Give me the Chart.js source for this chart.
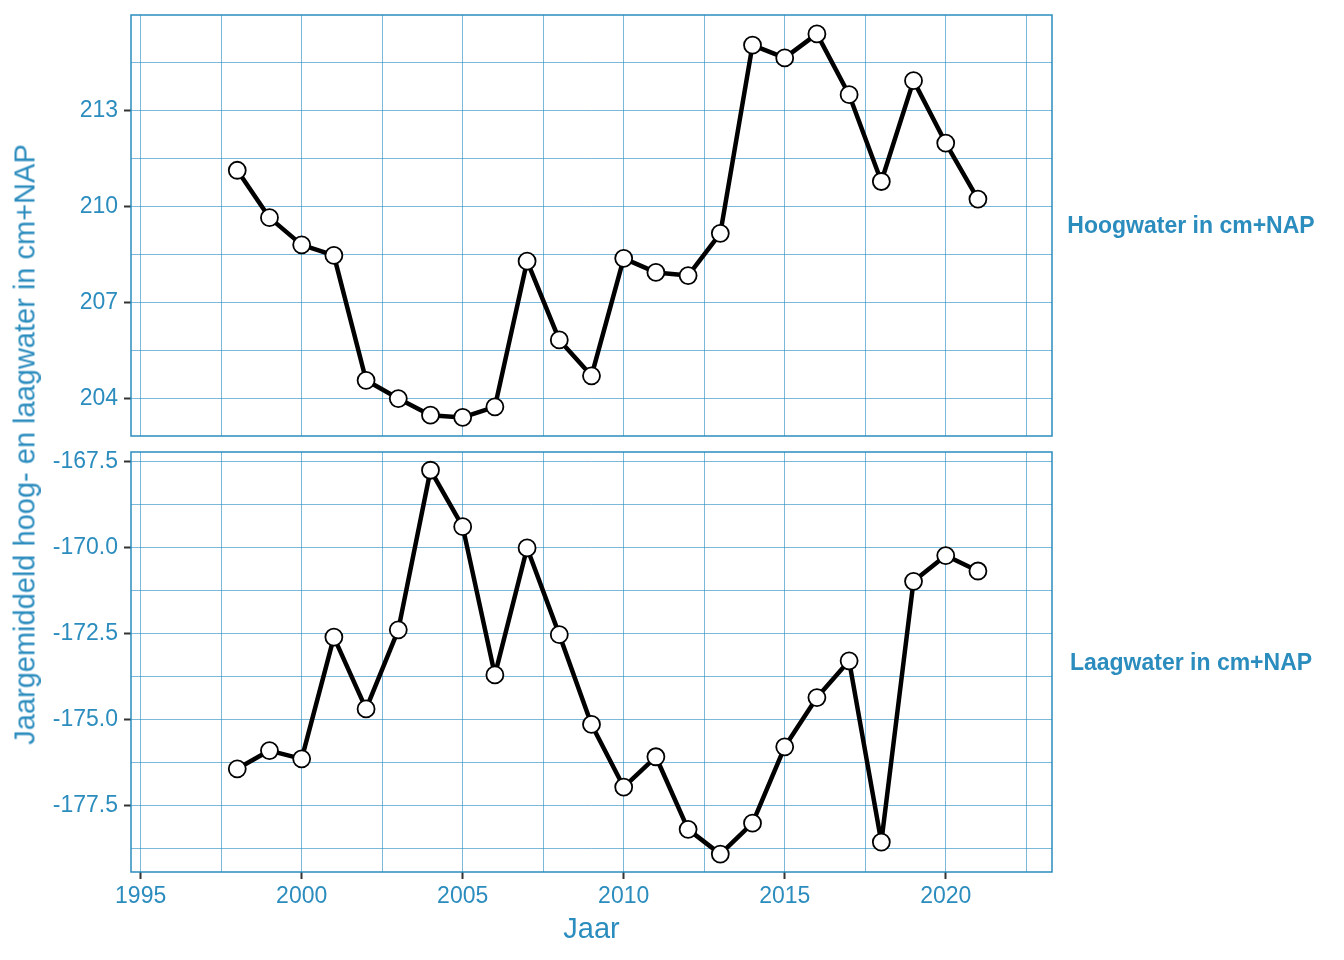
<!DOCTYPE html>
<html>
<head>
<meta charset="utf-8">
<script src="https://cdn.jsdelivr.net/npm/chart.js@4.4.0/dist/chart.umd.min.js"></script>
<style>
  body { margin: 0; background: #fff; }
  #wrap { position: relative; width: 1344px; height: 960px; overflow: hidden; font-family: 'Liberation Sans', Arial, sans-serif; }
  canvas { position: absolute; left: 0; }
  #hoogChart { top: -30px; }
  #laagChart { top: 400px; }
  .lbl { position: absolute; color: #2b8cbe; white-space: nowrap; text-align: center; }
  .title { font-size: 29px; line-height: 29px; height: 29px; }
  .strip { font-size: 23px; line-height: 23px; font-weight: bold; left: 1052px; width: 278px; }
</style>
</head>
<body>
<div id="wrap">
  <canvas id="hoogChart" width="1344" height="496"></canvas>
  <canvas id="laagChart" width="1344" height="560"></canvas>
  <div class="lbl title" style="left:-375px; top:429.5px; width:800px; transform:rotate(-90deg);">Jaargemiddeld hoog- en laagwater in cm+NAP</div>
  <div class="lbl title" style="left:391.5px; top:914px; width:400px;">Jaar</div>
  <div class="lbl strip" style="top:213.5px;">Hoogwater in cm+NAP</div>
  <div class="lbl strip" style="top:651px;">Laagwater in cm+NAP</div>
</div>
<script>
// jaargemiddelden
const years = [1998, 1999, 2000, 2001, 2002, 2003, 2004, 2005, 2006, 2007, 2008, 2009,
               2010, 2011, 2012, 2013, 2014, 2015, 2016, 2017, 2018, 2019, 2020, 2021];
const hoogwater = [211.14, 209.66, 208.81, 208.48, 204.58, 204.01, 203.49, 203.42, 203.75, 208.30, 205.84, 204.72,
                   208.39, 207.95, 207.85, 209.17, 215.05, 214.65, 215.40, 213.50, 210.79, 213.94, 211.99, 210.24];
const laagwater = [-176.42, -175.89, -176.13, -172.59, -174.68, -172.38, -167.74, -169.38, -173.69, -170.00, -172.52, -175.13,
                   -176.95, -176.07, -178.18, -178.90, -178.00, -175.78, -174.35, -173.28, -178.55, -170.97, -170.22, -170.67];

const yearTicks = [1995, 2000, 2005, 2010, 2015, 2020];
const hoogTicks = [204, 207, 210, 213];
const laagTicks = [-177.5, -175, -172.5, -170, -167.5];

const textColor = '#2b8cbe';
const gridColor = 'rgba(43, 140, 190, 0.62)';
const fontFamily = "'Liberation Sans', Arial, sans-serif";

function isMajor(list, v) {
    return list.some(m => Math.abs(m - v) < 1e-6);
}

// hoofd- en tussenlijnen (ggplot minor breaks halverwege)
function withMinors(list, min, max) {
    const half = (list[1] - list[0]) / 2;
    let out = [];
    list.forEach(v => out.push(v - half, v, v + half));
    out = out.filter(v => v >= min && v <= max);
    out = out.filter((v, i) => out.findIndex(w => Math.abs(w - v) < 1e-6) === i);
    return out.sort((a, b) => a - b).map(v => ({ value: v }));
}

const panelBorder = {
    id: 'panelBorder',
    afterDatasetsDraw(chart) {
        const a = chart.chartArea;
        const c = chart.ctx;
        c.save();
        c.strokeStyle = textColor;
        c.lineWidth = 1.5;
        c.strokeRect(a.left, a.top, a.right - a.left, a.bottom - a.top);
        c.restore();
    }
};

function gridOpts(list) {
    return {
        color: gridColor,
        lineWidth: 1,
        tickLength: 7,
        tickWidth: 2,
        tickColor: ctx => (ctx.tick && isMajor(list, ctx.tick.value)) ? '#333333' : 'rgba(0,0,0,0)'
    };
}

function makeChart(id, values, yTicks, yMin, yMax, fmt, showX, padTop, padBottom) {
    const ctx = document.getElementById(id).getContext('2d');
    return new Chart(ctx, {
        type: 'line',
        data: {
            datasets: [{
                data: years.map((y, i) => ({ x: y, y: values[i] })),
                borderColor: '#000000',
                borderWidth: 4.5,
                borderJoinStyle: 'round',
                borderCapStyle: 'round',
                pointRadius: 8.5,
                pointBorderWidth: 1.8,
                pointBackgroundColor: '#ffffff',
                pointBorderColor: '#000000',
                tension: 0
            }]
        },
        options: {
            responsive: false,
            animation: false,
            events: [],
            layout: { padding: { left: 0, right: 292, top: padTop, bottom: padBottom } },
            plugins: { legend: { display: false }, tooltip: { enabled: false } },
            scales: {
                x: {
                    type: 'linear',
                    min: 1994.7,
                    max: 2023.3,
                    afterBuildTicks: s => { s.ticks = withMinors(yearTicks, 1994.7, 2023.3); },
                    afterFit: s => { s.height = showX ? 88 : 0; },
                    border: { display: false },
                    grid: showX ? gridOpts(yearTicks) : Object.assign(gridOpts(yearTicks), { drawTicks: false }),
                    ticks: {
                        display: showX,
                        autoSkip: false,
                        maxRotation: 0,
                        padding: 4,
                        color: textColor,
                        font: { family: fontFamily, size: 23 },
                        callback: v => isMajor(yearTicks, v) ? String(v) : ''
                    }
                },
                y: {
                    type: 'linear',
                    min: yMin,
                    max: yMax,
                    afterBuildTicks: s => { s.ticks = withMinors(yTicks, yMin, yMax); },
                    afterFit: s => { s.width = 131; },
                    border: { display: false },
                    grid: gridOpts(yTicks),
                    ticks: {
                        autoSkip: false,
                        padding: 6,
                        color: textColor,
                        font: { family: fontFamily, size: 23 },
                        callback: v => isMajor(yTicks, v) ? fmt(v) : ''
                    }
                }
            }
        },
        plugins: [panelBorder]
    });
}

makeChart('hoogChart', hoogwater, hoogTicks, 202.84, 215.99, v => String(v), false, 45, 30);
makeChart('laagChart', laagwater, laagTicks, -179.42, -167.21, v => v.toFixed(1), true, 52, 0);
</script>
</body>
</html>
